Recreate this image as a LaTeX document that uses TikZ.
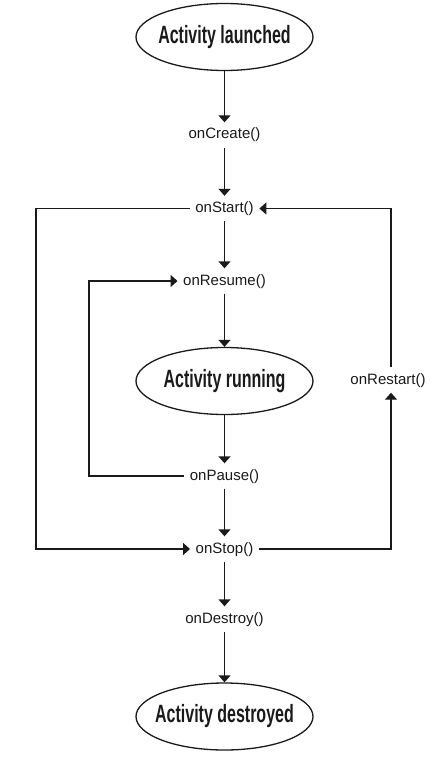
\documentclass[tikz,border=0pt]{standalone}
\usepackage{fontspec}
\setmainfont{Liberation Sans}
\newfontfamily\handfont[FakeStretch=0.64]{Liberation Sans Bold}
\usetikzlibrary{arrows.meta,shapes.geometric}
\definecolor{ink}{HTML}{1A1A1A}
\begin{document}
\begin{tikzpicture}[x=1pt,y=-1pt,
  line width=1.4pt, draw=ink,
  arr/.style={-{Triangle[width=12pt,length=7pt]}, line width=1.4pt, draw=ink},
  state/.style={ellipse, draw=ink, line width=1.3pt, minimum width=177pt, minimum height=67pt, inner sep=0pt},
  statetext/.style={font=\handfont\fontsize{25}{28}\selectfont, text=ink, inner sep=0pt},
  call/.style={font=\fontsize{15}{18}\selectfont, text=ink, text height=11pt, text depth=3pt, inner xsep=5pt, inner ysep=5pt}
]
\useasboundingbox (0,0) rectangle (437,765);
\node[state, label={[statetext]center:Activity launched}] (launched) at (224.5,37) {};
\node[call] (create) at (224.5,135) {onCreate()};
\node[call] (start) at (224.5,208.5) {onStart()};
\node[call] (resume) at (224.5,281) {onResume()};
\node[state, label={[statetext]center:Activity running}] (running) at (224.5,381) {};
\node[call] (pause) at (224.5,476) {onPause()};
\node[call] (stop) at (224.5,549) {onStop()};
\node[call] (destroy) at (224.5,619) {onDestroy()};
\node[state, label={[statetext]center:Activity destroyed}] (destroyed) at (224.5,716.5) {};
\node[call] (restart) at (388,380) {onRestart()};
\coordinate (lx) at (36,0);
\coordinate (ix) at (89,0);
\coordinate (rx) at (391,0);
\draw[arr] (launched) -- (create);
\draw[arr] (create) -- (start);
\draw[arr] (start) -- (resume);
\draw[arr] (resume) -- (running);
\draw[arr] (running) -- (pause);
\draw[arr] (pause) -- (stop);
\draw[arr] (stop) -- (destroy);
\draw[arr] (destroy) -- (destroyed);
\draw[arr] (start.west) -- (start.west -| lx) -- (stop.west -| lx) -- (stop.west);
\draw[arr] (pause.west) -- (pause.west -| ix) -- (resume.west -| ix) -- (resume.west);
\draw[arr] (stop.east) -- (stop.east -| rx) -- (restart.south -| rx);
\draw[arr] (restart.north -| rx) -- (start.east -| rx) -- (start.east);
\end{tikzpicture}
\end{document}
